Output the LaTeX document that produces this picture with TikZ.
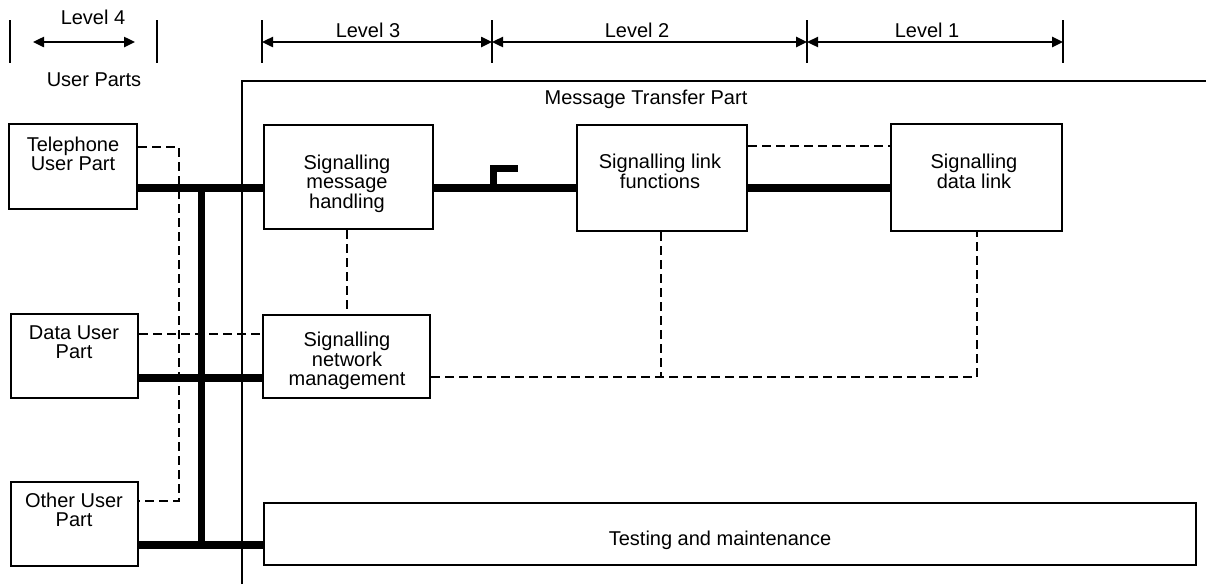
\documentclass[tikz,border=0pt]{standalone}
\usepackage{fontspec}
\setmainfont{Liberation Sans}
\usetikzlibrary{arrows.meta}
\tikzset{
  box/.style={draw, line width=2.4pt, inner sep=0pt},
  txt/.style={inner sep=0pt, anchor=base, align=center, font=\fontsize{20}{18.5}\selectfont},
  bus/.style={line width=8pt},
  vbus/.style={line width=7pt},
  dsh/.style={line width=2.8pt, dash pattern=on 9pt off 5pt},
  tickline/.style={line width=2.2pt},
  dimline/.style={line width=2.4pt, {Triangle[length=11pt,width=10pt]}-{Triangle[length=11pt,width=10pt]}},
}
\begin{document}
\begin{tikzpicture}[x=1pt,y=-1pt]
\useasboundingbox (0,0) rectangle (1206,584);

% ---- level indicators ----
\coordinate (q0) at (10,42);
\coordinate (q1) at (157,42);
\coordinate (l4a) at (33,42);
\coordinate (l4b) at (135,42);
\coordinate (t0) at (262,42);
\coordinate (t1) at (492,42);
\coordinate (t2) at (807,42);
\coordinate (t3) at (1063,42);
\foreach \c in {q0,q1,t0,t1,t2,t3}{
  \draw[tickline] (\c) ++(0,-22) -- ++(0,43);
}
\draw[dimline] (l4a) -- (l4b);
\draw[dimline] (t0) -- (t1);
\draw[dimline] (t1) -- (t2);
\draw[dimline] (t2) -- (t3);
\node[txt] (lv4) at (93,24) {Level 4};
\node[txt] (up) at (94,86) {User Parts};
\node[txt] (lv3) at (368,37) {Level 3};
\node[txt] (lv2) at (637,37) {Level 2};
\node[txt] (lv1) at (927,37) {Level 1};

% ---- Message Transfer Part frame ----
\coordinate (mtpB) at (242,584);
\coordinate (mtpC) at (242,81);
\coordinate (mtpR) at (1206,81);
\draw[line width=2.4pt] (mtpB) -- (mtpC) -- (mtpR);
\node[txt] (mtp) at (646,104) {Message Transfer Part};

% ---- boxes ----
\node[box, minimum width=128pt, minimum height=85pt] (tup) at (73,166.5) {};
\node[box, minimum width=127pt, minimum height=84pt] (dup) at (74.5,356) {};
\node[box, minimum width=127pt, minimum height=84pt] (oup) at (74.5,524) {};
\node[box, minimum width=169pt, minimum height=104pt] (smh) at (348.5,177) {};
\node[box, minimum width=167pt, minimum height=83pt] (snm) at (346.5,356.5) {};
\node[box, minimum width=170pt, minimum height=106pt] (slf) at (662,178) {};
\node[box, minimum width=171pt, minimum height=107pt] (sdl) at (976.5,177.5) {};
\node[box, minimum width=932pt, minimum height=62pt] (tm) at (730,534) {};

\node[txt] (tupT) at (73,170) {Telephone\\User Part};
\node[txt] (dupT) at (74,358) {Data User\\Part};
\node[txt] (oupT) at (74,526) {Other User\\Part};
\node[txt] (smhT) at (347,208) {Signalling\\message\\handling};
\node[txt] (snmT) at (347,385) {Signalling\\network\\management};
\node[txt] (slfT) at (660,188) {Signalling link\\functions};
\node[txt] (sdlT) at (974,188) {Signalling\\data link};
\node[txt] (tmT) at (720,545) {Testing and maintenance};

% ---- thick signalling paths ----
\draw[bus] (tup.east |- 0,188) -- (smh.west |- 0,188);
\draw[bus] (dup.east |- 0,378) -- (snm.west |- 0,378);
\draw[bus] (oup.east |- 0,545) -- (tm.west |- 0,545);
\coordinate (busT) at (201,188);
\coordinate (busB) at (201,545);
\draw[vbus] (busT) -- (busB);
\draw[bus] (smh.east |- 0,188) -- (slf.west |- 0,188);
\draw[bus] (slf.east |- 0,188) -- (sdl.west |- 0,188);
\coordinate (jog) at (493,188);
\draw[line width=7pt] (jog) -- ++(0,-20) -- ++(25,0);

% ---- dashed control paths ----
\coordinate (dl) at (179,147);
\coordinate (dlb) at (179,501);
\draw[dsh] (tup.east |- dl) -- (dl) -- (dlb) -- (oup.east |- dlb);
\draw[dsh] (dup.east |- 0,334) -- (snm.west |- 0,334);
\draw[dsh] (smh.south -| 347,0) -- (snm.north -| 347,0);
\draw[dsh] (slf.east |- 0,146) -- (sdl.west |- 0,146);
\coordinate (dA) at (661,377);
\coordinate (dB) at (977,377);
\draw[dsh] (slf.south -| dA) -- (dA);
\draw[dsh] (snm.east |- dB) -- (dB) -- (sdl.south -| dB);
\end{tikzpicture}
\end{document}
